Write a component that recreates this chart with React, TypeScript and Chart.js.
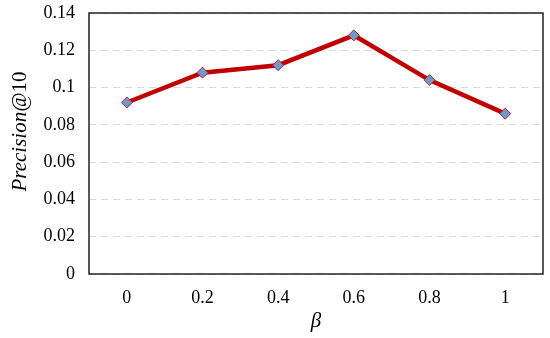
import React, { useEffect, useRef } from "react";
import { Chart, registerables } from "chart.js";

Chart.register(...registerables);

const categories = ["0", "0.2", "0.4", "0.6", "0.8", "1"];
const precisionValues = [0.092, 0.108, 0.112, 0.128, 0.104, 0.086];
const yTicks = [0, 0.02, 0.04, 0.06, 0.08, 0.1, 0.12, 0.14];
const yTitleItalic = "Precision@";
const yTitleUpright = "10";

const frame = {
  id: "frame",
  afterDraw(chart: any) {
    const { ctx, chartArea } = chart;
    ctx.save();
    ctx.strokeStyle = "#222";
    ctx.lineWidth = 1.5;
    ctx.strokeRect(chartArea.left, chartArea.top, chartArea.right - chartArea.left, chartArea.bottom - chartArea.top);
    // y-axis title: italic "Precision@" + upright "10"
    const italicFont = "italic 21px 'Liberation Serif'";
    const uprightFont = "21px 'Liberation Serif'";
    ctx.font = italicFont;
    const w1 = ctx.measureText(yTitleItalic).width;
    ctx.font = uprightFont;
    const w2 = ctx.measureText(yTitleUpright).width;
    const total = w1 + w2;
    const cy = (chartArea.top + chartArea.bottom) / 2 - 12;
    ctx.translate(20, cy);
    ctx.rotate(-Math.PI / 2);
    ctx.fillStyle = "#000";
    ctx.textBaseline = "middle";
    ctx.textAlign = "left";
    ctx.font = italicFont;
    ctx.fillText(yTitleItalic, -total / 2, 0);
    ctx.font = uprightFont;
    ctx.fillText(yTitleUpright, -total / 2 + w1, 0);
    ctx.restore();
  },
};

export default function App() {
  const ref = useRef<HTMLCanvasElement>(null);
  useEffect(() => {
    document.body.style.margin = "0";
    const chart = new Chart(ref.current!, {
      type: "line",
      data: {
        labels: categories,
        datasets: [
          {
            data: precisionValues,
            borderColor: "#C00000",
            borderWidth: 4.5,
            pointStyle: "rectRot",
            pointRadius: 5.5,
            pointBackgroundColor: "#7099C6",
            pointBorderColor: "#B0203A",
            pointBorderWidth: 1,
            tension: 0,
          },
        ],
      },
      options: {
        animation: false,
        responsive: false,
        layout: { padding: { top: 13, right: 7, bottom: 0, left: 6 } },
        plugins: { legend: { display: false }, tooltip: { enabled: false } },
        scales: {
          x: {
            offset: true,
            grid: { display: false },
            border: { display: false },
            afterFit: (axis: any) => {
              axis.height = 64;
              axis.paddingLeft = 0;
              axis.paddingRight = 0;
            },
            ticks: {
              color: "#000",
              padding: 5,
              font: { family: "Liberation Serif", size: 18 },
            },
            title: {
              display: true,
              text: "β",
              color: "#000",
              padding: { top: 0, bottom: 4 },
              font: { family: "Liberation Serif", size: 21, style: "italic" },
            },
          },
          y: {
            min: 0,
            max: 0.14,
            afterBuildTicks: (axis: any) => {
              axis.ticks = yTicks.map((v) => ({ value: v }));
            },
            afterFit: (axis: any) => {
              axis.width = 83;
              axis.paddingTop = 0;
              axis.paddingBottom = 0;
            },
            grid: {
              color: "#d9d9d9",
              drawTicks: false,
              lineWidth: 1,
            },
            border: { display: false, dash: [7, 5] },
            ticks: {
              color: "#000",
              padding: 14,
              font: { family: "Liberation Serif", size: 18 },
              callback: (v: any) => String(Number(v.toFixed(2))),
            },
            title: { display: false },
          },
        },
      },
      plugins: [frame],
    });
    return () => chart.destroy();
  }, []);
  return (
    <div style={{ width: 550, height: 338 }}>
      <canvas ref={ref} width={550} height={338} />
    </div>
  );
}
